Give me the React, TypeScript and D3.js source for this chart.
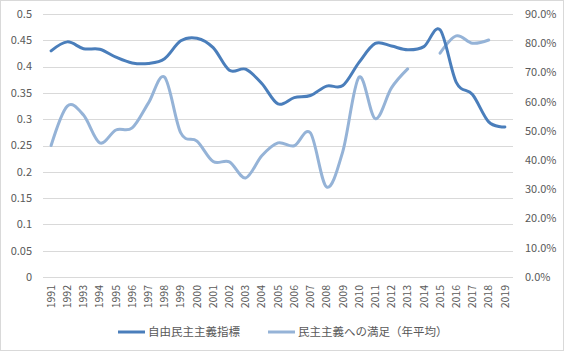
import React from "react";
import * as d3 from "d3";

const years: string[] = [
  "1991","1992","1993","1994","1995","1996","1997","1998","1999","2000",
  "2001","2002","2003","2004","2005","2006","2007","2008","2009","2010",
  "2011","2012","2013","2014","2015","2016","2017","2018","2019",
];

const liberalDemocracyIndex: number[] = [
  0.43, 0.447, 0.434, 0.433, 0.418, 0.407, 0.406, 0.415, 0.449, 0.454,
  0.436, 0.393, 0.395, 0.368, 0.329, 0.341, 0.345, 0.363, 0.364, 0.408,
  0.444, 0.439, 0.432, 0.438, 0.47, 0.37, 0.347, 0.295, 0.285,
];

const satisfaction: (number | null)[] = [
  45.0, 58.5, 55.4, 45.9, 50.3, 51.0, 59.5, 68.4, 49.3, 46.5,
  39.5, 39.4, 33.9, 41.5, 45.9, 44.9, 49.3, 30.8, 43.0, 68.4,
  54.2, 64.7, 71.2, null, 76.6, 82.5, 80.0, 81.1, null,
];

const leftTicks: number[] = [0, 0.05, 0.1, 0.15, 0.2, 0.25, 0.3, 0.35, 0.4, 0.45, 0.5];
const rightTicks: number[] = [0, 10, 20, 30, 40, 50, 60, 70, 80, 90];

const seriesNames: string[] = ["自由民主主義指標", "民主主義への満足（年平均）"];

const W = 567;
const H = 352;
const plotLeft = 43;
const plotRight = 513;
const plotTop = 14;
const plotBottom = 277;
const darkColor = "#4a7ebb";
const lightColor = "#95b3d7";
const textColor = "#595959";
const font = "'Noto Sans CJK JP', 'DejaVu Sans', sans-serif";

export default function App() {
  const x = d3.scaleBand<string>().domain(years).range([plotLeft, plotRight]);
  const yL = d3.scaleLinear().domain([0, 0.5]).range([plotBottom, plotTop]);
  const yR = d3.scaleLinear().domain([0, 90]).range([plotBottom, plotTop]);
  const cx = (y: string) => (x(y) as number) + x.bandwidth() / 2;

  const lineL = d3
    .line<number>()
    .x((_, i) => cx(years[i]))
    .y((d) => yL(d))
    .curve(d3.curveCatmullRom.alpha(0));

  const lineR = d3
    .line<number | null>()
    .defined((d) => d !== null)
    .x((_, i) => cx(years[i]))
    .y((d) => yR(d as number))
    .curve(d3.curveCatmullRom.alpha(0));

  return (
    <svg
      width={W}
      height={H}
      style={{ position: "absolute", left: 0, top: 0, background: "#fff" }}
      fontFamily={font}
    >
      <rect x={0.5} y={0.5} width={W - 4} height={H - 2} fill="#fff" stroke="#d9d9d9" />
      {leftTicks.map((t) => (
        <line
          key={"g" + t}
          x1={plotLeft}
          x2={plotRight}
          y1={Math.round(yL(t)) + 0.5}
          y2={Math.round(yL(t)) + 0.5}
          stroke="#d9d9d9"
          strokeWidth={1}
        />
      ))}
      {leftTicks.map((t) => (
        <text
          key={"l" + t}
          x={32}
          y={yL(t)}
          dy="0.35em"
          textAnchor="end"
          fontSize={11}
          fill={textColor}
        >
          {String(t)}
        </text>
      ))}
      {rightTicks.map((t) => (
        <text
          key={"r" + t}
          x={525}
          y={yR(t)}
          dy="0.35em"
          textAnchor="start"
          fontSize={11}
          fill={textColor}
        >
          {t.toFixed(1) + "%"}
        </text>
      ))}
      {years.map((yr) => (
        <text
          key={"x" + yr}
          transform={`translate(${cx(yr)},${285}) rotate(-90)`}
          dy="0.35em"
          textAnchor="end"
          fontSize={10.5}
          fill={textColor}
        >
          {yr}
        </text>
      ))}
      <path
        d={lineR(satisfaction) || ""}
        fill="none"
        stroke={lightColor}
        strokeWidth={3}
        strokeLinecap="round"
        strokeLinejoin="round"
      />
      <path
        d={lineL(liberalDemocracyIndex) || ""}
        fill="none"
        stroke={darkColor}
        strokeWidth={3}
        strokeLinecap="round"
        strokeLinejoin="round"
      />
      <g>
        <line x1={118} x2={145} y1={332} y2={332} stroke={darkColor} strokeWidth={3} />
        <text x={148} y={332} dy="0.35em" fontSize={11.5} fill={textColor}>
          {seriesNames[0]}
        </text>
        <line x1={268} x2={295} y1={332} y2={332} stroke={lightColor} strokeWidth={3} />
        <text x={298} y={332} dy="0.35em" fontSize={11.5} fill={textColor}>
          {seriesNames[1]}
        </text>
      </g>
    </svg>
  );
}
